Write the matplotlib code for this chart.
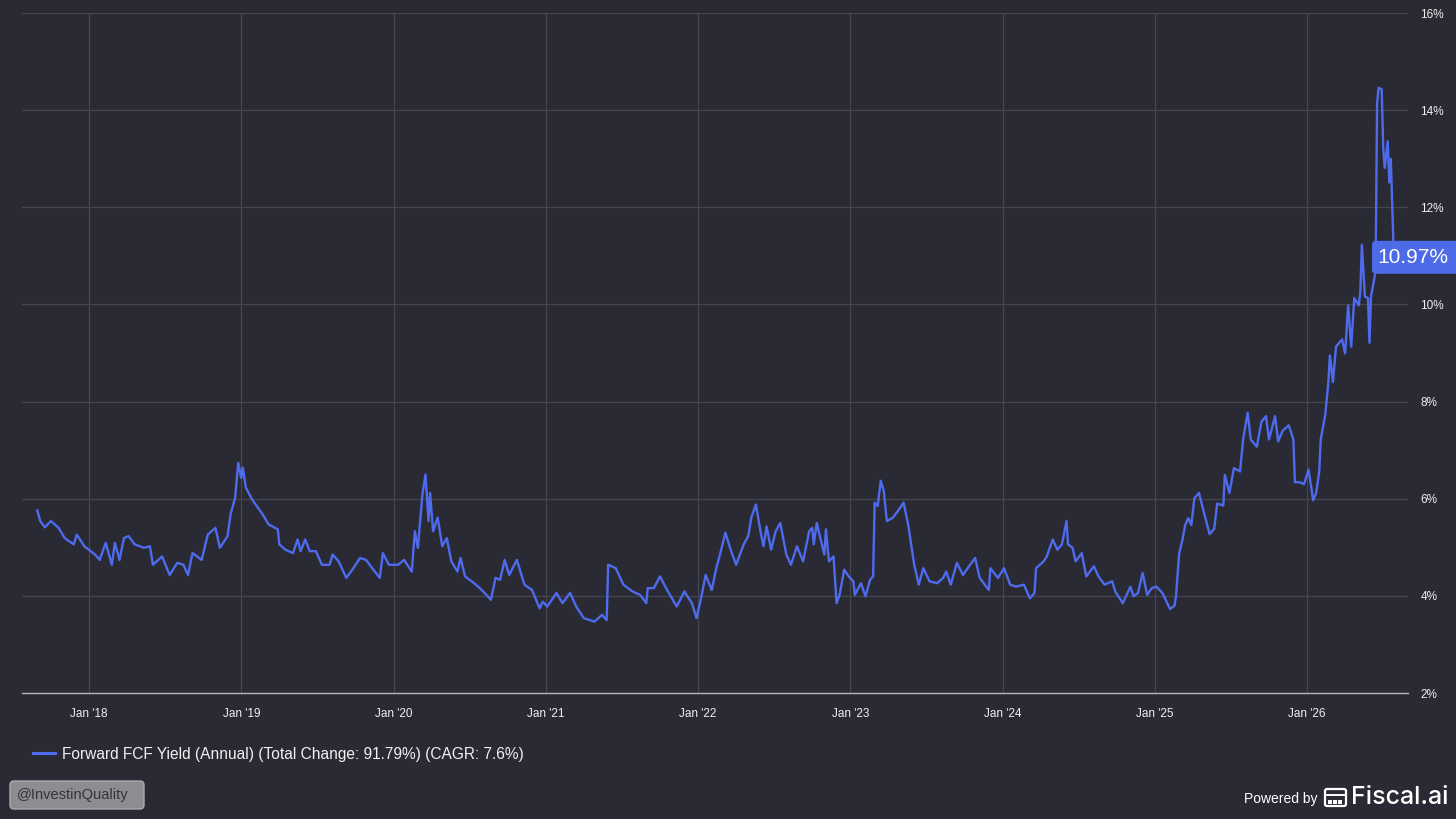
import matplotlib
matplotlib.use("Agg")
import matplotlib.pyplot as plt
from matplotlib.patches import FancyBboxPatch, Rectangle
from matplotlib.lines import Line2D
from matplotlib.transforms import IdentityTransform
import numpy as np

# ---------------- data (decimal years, yield %) ----------------
dates_2017_2019 = [2017.66, 2017.68, 2017.71, 2017.75, 2017.80, 2017.84, 2017.90, 2017.92, 2017.97,
                   2018.04, 2018.07, 2018.11, 2018.15, 2018.17, 2018.20, 2018.23, 2018.26, 2018.30,
                   2018.36, 2018.40, 2018.42, 2018.48, 2018.53, 2018.58, 2018.62, 2018.65, 2018.68,
                   2018.74, 2018.78, 2018.83, 2018.86, 2018.91, 2018.93, 2018.96, 2018.98, 2019.00,
                   2019.01, 2019.03, 2019.07, 2019.14, 2019.18, 2019.24, 2019.25, 2019.29, 2019.34,
                   2019.37, 2019.39, 2019.42, 2019.45, 2019.49, 2019.53, 2019.58, 2019.60, 2019.64,
                   2019.69, 2019.73, 2019.78, 2019.82, 2019.86, 2019.91, 2019.93, 2019.97]
yield_2017_2019 = [5.76, 5.54, 5.41, 5.54, 5.40, 5.19, 5.06, 5.26, 5.02,
                   4.85, 4.74, 5.09, 4.64, 5.09, 4.74, 5.19, 5.23, 5.06,
                   4.99, 5.02, 4.64, 4.81, 4.43, 4.68, 4.64, 4.43, 4.88,
                   4.74, 5.26, 5.40, 4.99, 5.23, 5.68, 6.02, 6.74, 6.43,
                   6.64, 6.23, 5.99, 5.68, 5.47, 5.37, 5.06, 4.95, 4.88,
                   5.16, 4.92, 5.16, 4.92, 4.92, 4.64, 4.64, 4.85, 4.71,
                   4.37, 4.54, 4.78, 4.74, 4.57, 4.37, 4.88, 4.64]

dates_2020_2022 = [2020.03, 2020.07, 2020.12, 2020.14, 2020.16, 2020.19, 2020.21, 2020.23, 2020.24, 2020.26,
                   2020.29, 2020.32, 2020.35, 2020.38, 2020.42, 2020.44, 2020.47, 2020.53, 2020.58, 2020.64,
                   2020.67, 2020.70, 2020.73, 2020.76, 2020.81, 2020.86, 2020.91, 2020.96, 2020.98,
                   2021.01, 2021.07, 2021.11, 2021.16, 2021.20, 2021.25, 2021.32, 2021.37, 2021.40, 2021.41,
                   2021.46, 2021.51, 2021.57, 2021.62, 2021.66, 2021.67, 2021.71, 2021.75, 2021.79, 2021.86,
                   2021.91, 2021.96, 2021.99,
                   2022.02, 2022.05, 2022.09, 2022.12, 2022.15, 2022.18, 2022.21, 2022.25,
                   2022.30, 2022.33, 2022.35, 2022.38, 2022.41, 2022.43, 2022.45, 2022.48, 2022.51, 2022.54,
                   2022.58]
yield_2020_2022 = [4.64, 4.74, 4.50, 5.33, 4.99, 6.09, 6.50, 5.54, 6.12, 5.33,
                   5.61, 5.02, 5.19, 4.71, 4.50, 4.78, 4.40, 4.26, 4.12, 3.92,
                   4.37, 4.33, 4.74, 4.43, 4.74, 4.23, 4.12, 3.74, 3.88,
                   3.78, 4.06, 3.85, 4.06, 3.78, 3.54, 3.47, 3.61, 3.50, 4.64,
                   4.57, 4.23, 4.09, 4.02, 3.85, 4.16, 4.16, 4.40, 4.16, 3.78,
                   4.09, 3.85, 3.54,
                   3.95, 4.43, 4.12, 4.57, 4.92, 5.30, 4.99, 4.64,
                   5.06, 5.23, 5.61, 5.88, 5.33, 5.02, 5.43, 4.95, 5.33, 5.50,
                   4.85]

dates_2022_2025 = [2022.61, 2022.65, 2022.69, 2022.73, 2022.75, 2022.76, 2022.78, 2022.80, 2022.83, 2022.84,
                   2022.86, 2022.89, 2022.91, 2022.93, 2022.96, 2022.99,
                   2023.02, 2023.03, 2023.07, 2023.10,
                   2023.13, 2023.15, 2023.16, 2023.18, 2023.20, 2023.22, 2023.24, 2023.28, 2023.32, 2023.35,
                   2023.38, 2023.42, 2023.45, 2023.48, 2023.52, 2023.57, 2023.61, 2023.63, 2023.66, 2023.70,
                   2023.74, 2023.78, 2023.82, 2023.85, 2023.91, 2023.92, 2023.97,
                   2024.01, 2024.05, 2024.09,
                   2024.14, 2024.18, 2024.21, 2024.22, 2024.27, 2024.29, 2024.33, 2024.36, 2024.39, 2024.42,
                   2024.43, 2024.46, 2024.48, 2024.52, 2024.55, 2024.60, 2024.63, 2024.67, 2024.72, 2024.74,
                   2024.79, 2024.84, 2024.86, 2024.89, 2024.92, 2024.95, 2024.98,
                   2025.01, 2025.05]
yield_2022_2025 = [4.64, 5.02, 4.71, 5.33, 5.40, 5.06, 5.50, 5.23, 4.85, 5.37,
                   4.71, 4.81, 3.85, 4.02, 4.54, 4.40,
                   4.30, 4.02, 4.26, 3.99,
                   4.33, 4.40, 5.92, 5.85, 6.37, 6.16, 5.54, 5.61, 5.78, 5.92,
                   5.47, 4.64, 4.23, 4.57, 4.30, 4.26, 4.37, 4.50, 4.23, 4.68,
                   4.43, 4.61, 4.78, 4.37, 4.12, 4.57, 4.37,
                   4.57, 4.23, 4.19,
                   4.23, 3.95, 4.06, 4.57, 4.71, 4.81, 5.16, 4.95, 5.06, 5.54,
                   5.06, 4.99, 4.71, 4.88, 4.40, 4.61, 4.40, 4.23, 4.30, 4.09,
                   3.85, 4.19, 3.99, 4.06, 4.47, 4.02, 4.16,
                   4.19, 4.06]

dates_2025_2026 = [2025.10, 2025.13, 2025.14, 2025.16, 2025.18, 2025.20, 2025.22, 2025.24, 2025.26, 2025.29,
                   2025.32, 2025.36, 2025.39, 2025.41, 2025.45, 2025.46, 2025.49, 2025.52, 2025.56, 2025.58,
                   2025.61, 2025.63, 2025.67, 2025.70, 2025.73, 2025.75, 2025.79, 2025.81, 2025.84, 2025.88,
                   2025.91, 2025.92, 2025.95, 2025.98,
                   2026.01, 2026.04, 2026.06, 2026.08, 2026.09, 2026.12,
                   2026.14, 2026.15, 2026.17, 2026.19, 2026.23, 2026.25, 2026.27, 2026.29, 2026.31, 2026.34,
                   2026.35, 2026.36, 2026.38, 2026.40, 2026.41, 2026.42, 2026.45, 2026.46, 2026.47, 2026.49,
                   2026.50, 2026.51, 2026.53, 2026.54, 2026.55, 2026.57]
yield_2025_2026 = [3.73, 3.80, 4.02, 4.87, 5.13, 5.46, 5.60, 5.46, 6.01, 6.12,
                   5.75, 5.27, 5.38, 5.90, 5.86, 6.49, 6.12, 6.63, 6.56, 7.22,
                   7.77, 7.22, 7.07, 7.58, 7.70, 7.22, 7.70, 7.18, 7.40, 7.51,
                   7.22, 6.34, 6.34, 6.30,
                   6.60, 5.97, 6.12, 6.56, 7.22, 7.74,
                   8.40, 8.95, 8.40, 9.13, 9.28, 8.99, 9.98, 9.13, 10.13, 9.98,
                   10.27, 11.23, 10.16, 10.13, 9.21, 10.16, 10.68, 14.13, 14.46, 14.43,
                   13.25, 12.81, 13.36, 12.51, 13.00, 10.97]

tick_years = [2018, 2019, 2020, 2021, 2022, 2023, 2024, 2025, 2026]
tick_labels = ["Jan '18", "Jan '19", "Jan '20", "Jan '21", "Jan '22", "Jan '23", "Jan '24", "Jan '25", "Jan '26"]
y_ticks = [2, 4, 6, 8, 10, 12, 14, 16]
series_name = "Forward FCF Yield (Annual) (Total Change: 91.79%) (CAGR: 7.6%)"
last_label = "10.97%"

dates = dates_2017_2019 + dates_2020_2022 + dates_2022_2025 + dates_2025_2026
yields = yield_2017_2019 + yield_2020_2022 + yield_2022_2025 + yield_2025_2026

# ---------------- style ----------------
BG = "#2a2a34"
GRID = "#464651"
AXIS = "#b4b4bc"
LINE = "#4f6bed"
TXT = "#f0f0f0"
plt.rcParams["font.family"] = ["Liberation Sans", "DejaVu Sans"]

W, H = 1456, 819
fig = plt.figure(figsize=(W / 100, H / 100), dpi=100, facecolor=BG)
ax = fig.add_axes([22 / W, 1 - 693 / H, 1386 / W, 680 / H])
ax.set_facecolor(BG)

ax.plot(dates, yields, color=LINE, lw=1.7, solid_joinstyle="round", zorder=3)

ax.set_xlim(2017.56, 2026.663)
ax.set_ylim(2, 16)
ax.set_xticks(tick_years)
ax.set_xticklabels(tick_labels)
ax.set_yticks(y_ticks)
ax.set_yticklabels([f"{v}%" for v in y_ticks])
ax.yaxis.tick_right()
ax.tick_params(axis="both", length=0, colors=TXT, labelsize=8.5)
ax.tick_params(axis="x", pad=11)
ax.tick_params(axis="y", pad=9)
ax.grid(True, color=GRID, lw=0.9)
for s in ["top", "left", "right"]:
    ax.spines[s].set_visible(False)
ax.spines["bottom"].set_color(AXIS)
ax.spines["bottom"].set_linewidth(1.0)
ax.spines["bottom"].set_zorder(4)

# legend
handle = Line2D([], [], color=LINE, lw=2.2)
fig.legend([handle], [series_name], loc="center left",
           bbox_to_anchor=(33 / W, 1 - 754 / H), frameon=False,
           fontsize=11.2, handlelength=1.4, handletextpad=0.45,
           borderpad=0, borderaxespad=0, labelcolor=TXT)

# last value label
ident = IdentityTransform()
_, ypix = ax.transData.transform((2026.57, yields[-1]))
box = FancyBboxPatch((1372, ypix - 16.5), 92, 33,
                     boxstyle="round,pad=0,rounding_size=4",
                     transform=ident, facecolor="#4d6be6", edgecolor="none", zorder=10)
fig.add_artist(box)
fig.text(1413, ypix, last_label, transform=ident, ha="center", va="center",
         color="white", fontsize=15, zorder=11)

# watermark
wm = FancyBboxPatch((10, 10), 134, 28, boxstyle="round,pad=0,rounding_size=4",
                    transform=ident, facecolor="#8c8c91", edgecolor="#a9a9ae", lw=1)
fig.add_artist(wm)
fig.text(17, 24, "@InvestinQuality", transform=ident, ha="left", va="center",
         color="#333338", fontsize=10.5)

# Powered by Fiscal.ai
fig.text(1317, 20, "Powered by", transform=ident, ha="right", va="center",
         color="white", fontsize=10)
icon = FancyBboxPatch((1325, 13), 21, 17, boxstyle="round,pad=0,rounding_size=2",
                      transform=ident, facecolor="none", edgecolor="white", lw=1.6)
fig.add_artist(icon)
fig.add_artist(Line2D([1325, 1346], [24, 24], transform=ident, color="white", lw=1.4))
for x0 in (1328, 1333, 1338):
    fig.add_artist(Rectangle((x0, 15.5), 3.5, 4, transform=ident, facecolor="white", edgecolor="none"))
fig.text(1351, 21, "Fiscal.ai", transform=ident, ha="left", va="center",
         color="white", fontsize=18, fontweight="medium",
         family=["Inter", "Liberation Sans", "DejaVu Sans"])

fig.savefig("out.png", dpi=100, facecolor=BG)
